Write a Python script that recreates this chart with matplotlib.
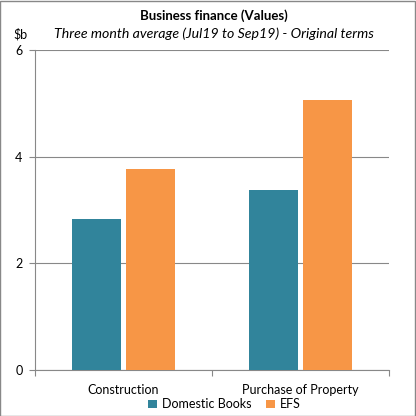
import matplotlib.pyplot as plt
import numpy as np

categories = ["Construction", "Purchase of Property"]
domestic = [2.83, 3.38]
efs = [3.77, 5.06]
yticks = [0, 2, 4, 6]

plt.rcParams['font.family'] = ['Lato', 'DejaVu Sans']

fig = plt.figure(figsize=(4.16, 4.16), dpi=100)
ax = fig.add_axes([0.0841, 0.1106, 0.851, 0.769])

x = np.arange(len(categories))
w = 0.277
ax.bar(x - 0.152, domestic, w, color="#31849B", label="Domestic Books", zorder=3)
ax.bar(x + 0.152, efs, w, color="#F79646", label="EFS", zorder=3)

ax.set_xlim(-0.5, 1.5)
ax.set_ylim(0, 6)
ax.set_yticks(yticks)
ax.set_yticklabels([str(t) for t in yticks], fontsize=9)
ax.yaxis.grid(True, color="#888888", linewidth=0.8, zorder=0)
ax.set_xticks([-0.5, 0.5, 1.5])
ax.set_xticklabels([])
ax.set_xticks(x, minor=True)
ax.set_xticklabels(categories, minor=True, fontsize=9)
ax.tick_params(axis='x', which='minor', length=0, pad=10)
ax.tick_params(axis='x', which='major', length=4, color="#888888")
ax.tick_params(axis='y', length=4, color="#888888", pad=5)
for s in ["top", "right"]:
    ax.spines[s].set_visible(False)
ax.spines["left"].set_color("#888888")
ax.spines["bottom"].set_color("#888888")

fig.text(0.513, 0.9615, "Business finance (Values)", ha="center", va="center",
         fontsize=9.5, fontweight="bold")
fig.text(0.514, 0.918, "Three month average (Jul19 to Sep19) - Original terms",
         ha="center", va="center", fontsize=10.2, style="italic")
fig.text(0.048, 0.918, "$b", ha="center", va="center", fontsize=9)

fig.legend(loc="center", bbox_to_anchor=(0.54, 0.028), ncol=2, frameon=False,
           fontsize=9, handlelength=0.7, handleheight=0.7, columnspacing=1.2,
           handletextpad=0.4)

fig.patches.append(plt.Rectangle((0.001, 0.001), 0.997, 0.997, transform=fig.transFigure,
                                 fill=False, edgecolor="#888888", linewidth=1))

fig.savefig("out.png", dpi=100)
